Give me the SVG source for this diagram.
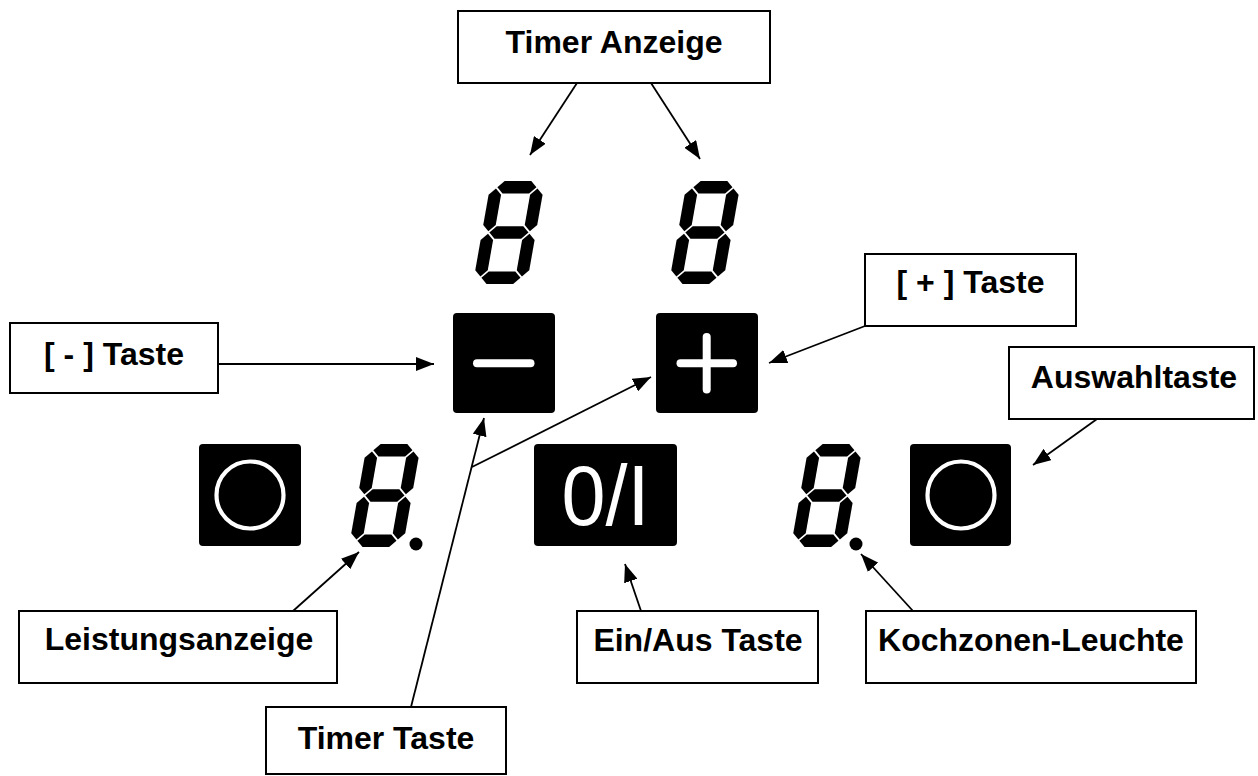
<svg xmlns="http://www.w3.org/2000/svg" xmlns:xlink="http://www.w3.org/1999/xlink" width="1258" height="776" viewBox="0 0 1258 776">
  <style>
    .box { fill: #fff; stroke: #000; stroke-width: 2; }
    .lbl { font-family: "Liberation Sans", Arial, sans-serif; font-weight: bold; font-size: 32px; fill: #000; text-anchor: middle; }
    .key { fill: #000; }
    .glyph { stroke: #fff; stroke-width: 8; stroke-linecap: round; fill: none; }
    .ring { stroke: #fff; stroke-width: 4.2; fill: none; }
    .conn line { stroke: #000; stroke-width: 1.8; marker-end: url(#arrow); }
    .seg polygon { fill: #000; }
  </style>
  <defs>
    <marker id="arrow" viewBox="0 0 18 14" refX="18" refY="7" markerWidth="18" markerHeight="14" markerUnits="userSpaceOnUse" orient="auto">
      <path d="M0,0 L18,7 L0,14 z" fill="#000"/>
    </marker>
    <!-- upright seven-segment digit, 54 x 103 -->
    <g id="digit" class="seg">
      <polygon points="7.45,6.25 13.7,0 40.3,0 46.55,6.25 40.3,12.5 13.7,12.5"/>
      <polygon points="7.45,51.5 13.7,45.25 40.3,45.25 46.55,51.5 40.3,57.75 13.7,57.75"/>
      <polygon points="7.45,96.75 13.7,90.5 40.3,90.5 46.55,96.75 40.3,103 13.7,103"/>
      <polygon points="6.25,7.45 12.5,13.7 12.5,44.05 6.25,50.3 0,44.05 0,13.7"/>
      <polygon points="6.25,52.7 12.5,58.95 12.5,89.3 6.25,95.55 0,89.3 0,58.95"/>
      <polygon points="47.75,7.45 54,13.7 54,44.05 47.75,50.3 41.5,44.05 41.5,13.7"/>
      <polygon points="47.75,52.7 54,58.95 54,89.3 47.75,95.55 41.5,89.3 41.5,58.95"/>
    </g>
  </defs>

  <rect width="1258" height="776" fill="#fff"/>

  <!-- connectors -->
  <g id="connectors" class="conn">
    <line x1="577" y1="83" x2="530" y2="155"/>
    <line x1="651" y1="83" x2="700" y2="159"/>
    <line x1="218" y1="364" x2="434" y2="364"/>
    <line x1="865" y1="326" x2="769" y2="363"/>
    <line x1="1097" y1="419" x2="1033" y2="465"/>
    <line x1="293" y1="611" x2="359" y2="552"/>
    <line x1="411" y1="707" x2="484" y2="418"/>
    <line x1="472" y1="467" x2="651" y2="377"/>
    <line x1="641" y1="611" x2="625" y2="564"/>
    <line x1="913" y1="611" x2="861" y2="554"/>
  </g>

  <!-- displays -->
  <g id="timer-digit-left"><use xlink:href="#digit" href="#digit" transform="translate(491,181) skewX(-10)"/></g>
  <g id="timer-digit-right"><use xlink:href="#digit" href="#digit" transform="translate(687,181) skewX(-10)"/></g>
  <g id="power-digit-left">
    <use xlink:href="#digit" href="#digit" transform="translate(367,444) skewX(-10)"/>
    <circle cx="416" cy="544" r="6.5" fill="#000"/>
  </g>
  <g id="power-digit-right">
    <use xlink:href="#digit" href="#digit" transform="translate(809,444) skewX(-10)"/>
    <circle cx="856" cy="544" r="6.5" fill="#000"/>
  </g>

  <!-- keys -->
  <g id="key-minus">
    <rect class="key" x="453" y="313" width="102" height="100" rx="4"/>
    <line class="glyph" x1="477" y1="363.3" x2="530.5" y2="363.3"/>
  </g>
  <g id="key-plus">
    <rect class="key" x="656" y="313" width="102" height="100" rx="4"/>
    <line class="glyph" x1="680.5" y1="363.3" x2="733" y2="363.3"/>
    <line class="glyph" x1="706.7" y1="337" x2="706.7" y2="389.5"/>
  </g>
  <g id="key-select-left">
    <rect class="key" x="199" y="444" width="102" height="102" rx="4"/>
    <circle class="ring" cx="250" cy="495" r="33.5"/>
  </g>
  <g id="key-select-right">
    <rect class="key" x="910" y="444" width="101" height="102" rx="4"/>
    <circle class="ring" cx="961" cy="495" r="33.5"/>
  </g>
  <g id="key-onoff">
    <rect class="key" x="534" y="444" width="143" height="102" rx="4"/>
    <text x="605.5" y="525" font-family="Liberation Sans, Arial, sans-serif" font-size="86" fill="#fff" text-anchor="middle" textLength="88" lengthAdjust="spacingAndGlyphs">0/I</text>
  </g>

  <!-- labels -->
  <g id="label-timer-anzeige">
    <rect class="box" x="458" y="11" width="312" height="72"/>
    <text class="lbl" x="614" y="53">Timer Anzeige</text>
  </g>
  <g id="label-minus">
    <rect class="box" x="10" y="323" width="208" height="70"/>
    <text class="lbl" x="114" y="365">[ - ] Taste</text>
  </g>
  <g id="label-plus">
    <rect class="box" x="865" y="254" width="211" height="72"/>
    <text class="lbl" x="970.5" y="293">[ + ] Taste</text>
  </g>
  <g id="label-auswahl">
    <rect class="box" x="1009" y="347" width="245" height="72"/>
    <text class="lbl" x="1134" y="388">Auswahltaste</text>
  </g>
  <g id="label-leistung">
    <rect class="box" x="19" y="611" width="318" height="72"/>
    <text class="lbl" x="179" y="650">Leistungsanzeige</text>
  </g>
  <g id="label-einaus">
    <rect class="box" x="577" y="611" width="241" height="72"/>
    <text class="lbl" x="698" y="651">Ein/Aus Taste</text>
  </g>
  <g id="label-kochzone">
    <rect class="box" x="866" y="611" width="330" height="72"/>
    <text class="lbl" x="1031" y="651">Kochzonen-Leuchte</text>
  </g>
  <g id="label-timer-taste">
    <rect class="box" x="266" y="707" width="240" height="67"/>
    <text class="lbl" x="386" y="749">Timer Taste</text>
  </g>
</svg>
